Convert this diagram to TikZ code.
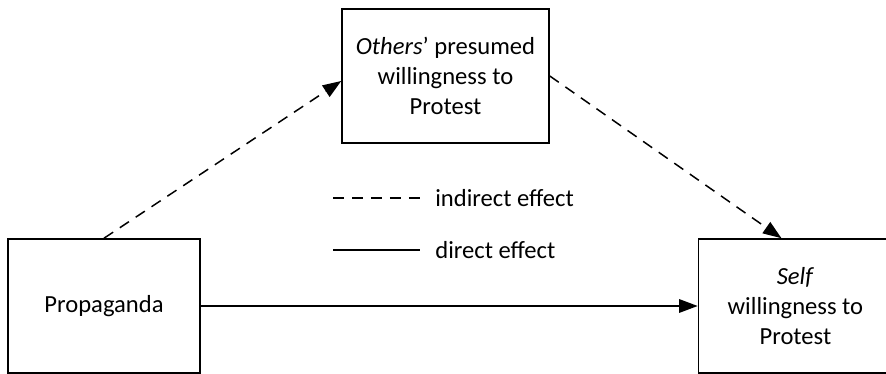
\documentclass[tikz,border=0pt]{standalone}
\usepackage{fontspec}
\setmainfont{Carlito}
\usetikzlibrary{arrows.meta, positioning}

\begin{document}
\begin{tikzpicture}[
    x=0.02cm, y=-0.02cm,
    var/.style={rectangle, draw, line width=0.9pt, minimum height=2.68cm, align=center, inner sep=0pt, font=\fontsize{14}{17}\selectfont},
    effect/.style={-{Triangle[length=0.37cm, width=0.27cm]}, line width=0.85pt},
    indirect/.style={effect, dash pattern=on 0.22cm off 0.16cm},
    legend/.style={anchor=west, inner xsep=0.3cm, font=\fontsize{14}{17}\selectfont}
]
    \useasboundingbox (0,0) rectangle (886,374);

    % Variables
    \node[var, minimum width=3.84cm] (prop) at (104,306) {Propaganda};
    \node[var, minimum width=3.88cm, right=9.94cm of prop] (self) {
        \textit{Self}\\
        willingness to\\
        Protest
    };
    \node[var, minimum width=4.14cm] (others) at (445.5,76) {
        \textit{Others}' presumed\\
        willingness to\\
        Protest
    };

    % Effects
    \draw[effect] (prop.east) -- (self.west);
    \draw[indirect] (prop.north) -- ([yshift=-0.1cm]others.west);
    \draw[indirect] (others.east) -- ([xshift=-0.28cm]self.north);

    % Legend
    \coordinate (indstart) at (333,198);
    \coordinate (dirstart) at (333,250);
    \node[legend] (indlbl) at (420,198) {indirect effect};
    \node[legend] (dirlbl) at (420,250) {direct effect};
    \draw[line width=0.85pt, dash pattern=on 0.22cm off 0.16cm] (indstart) -- (indlbl.west);
    \draw[line width=0.85pt] (dirstart) -- (dirlbl.west);
\end{tikzpicture}
\end{document}
